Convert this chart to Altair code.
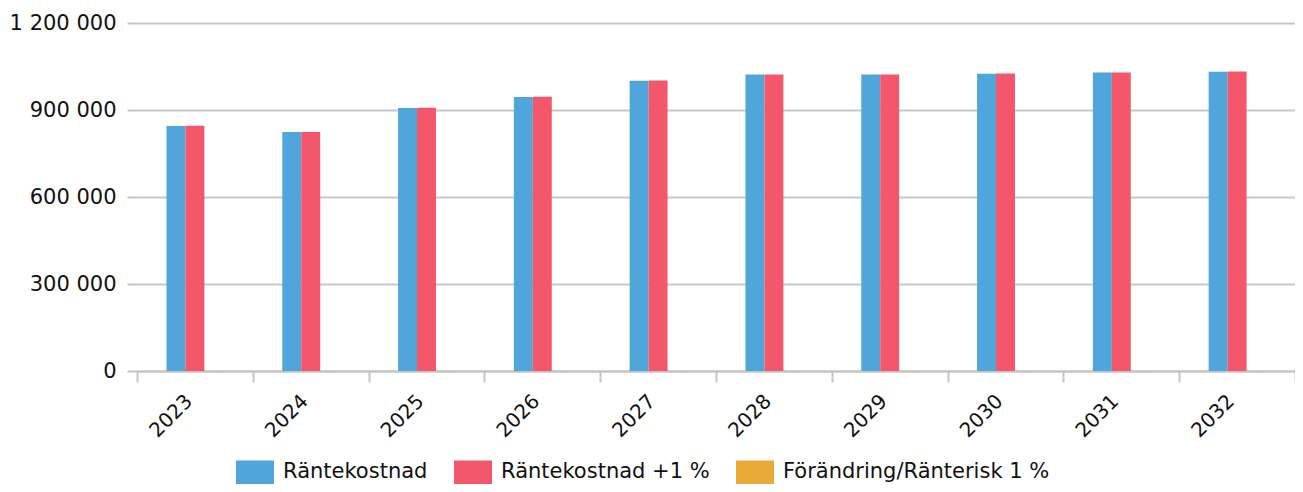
import altair as alt
import pandas as pd

years = ["2023", "2024", "2025", "2026", "2027", "2028", "2029", "2030", "2031", "2032"]
series = ["Räntekostnad", "Räntekostnad +1 %", "Förändring/Ränterisk 1 %"]
rantekostnad = [845000, 824000, 907000, 945000, 1001000, 1022000, 1022000, 1025000, 1029000, 1032000]
rantekostnad_1 = [845500, 824500, 907500, 945500, 1001500, 1022500, 1022500, 1025500, 1029500, 1032500]
forandring = [500, 500, 500, 500, 500, 500, 500, 500, 500, 500]
colors = ["#50A5DA", "#F3576C", "#E9AA38"]

rows = []
for i, y in enumerate(years):
    for s, vals in zip(series, [rantekostnad, rantekostnad_1, forandring]):
        rows.append({"year": y, "series": s, "value": vals[i]})
df = pd.DataFrame(rows)

FONT = "DejaVu Sans"
offset_domain = ["_l"] + series + ["_r"]

chart = alt.Chart(df).mark_bar(stroke=None).encode(
    x=alt.X("year:N", sort=years, title=None,
            scale=alt.Scale(paddingInner=0, paddingOuter=0),
            axis=alt.Axis(labelAngle=-45, labelAlign="right", labelBaseline="alphabetic",
                          labelOffset=-2, tickBand="extent", labelFontSize=20,
                          labelFont=FONT, labelColor="#111", labelPadding=20,
                          tickSize=11, tickWidth=2, tickColor="#c4c4c4",
                          domainColor="#c4c4c4", domainWidth=2, grid=False)),
    xOffset=alt.XOffset("series:N",
                        scale=alt.Scale(domain=offset_domain, paddingInner=0, paddingOuter=0.555)),
    y=alt.Y("value:Q", title=None,
            scale=alt.Scale(domain=[0, 1200000], nice=False),
            axis=alt.Axis(values=[0, 300000, 600000, 900000, 1200000],
                          labelExpr="replace(format(datum.value, ','), /,/g, ' ')",
                          labelFontSize=21, labelFont=FONT, labelColor="#111",
                          labelPadding=11, tickSize=10, tickWidth=2, tickColor="#c4c4c4",
                          domain=False, gridColor="#c8c8c8", gridWidth=2)),
    color=alt.Color("series:N", sort=series,
                    scale=alt.Scale(domain=series, range=colors),
                    legend=alt.Legend(title=None, orient="none", legendX=99, legendY=430,
                                      direction="horizontal", columns=3,
                                      symbolType="M-1,-0.632L1,-0.632L1,0.632L-1,0.632Z",
                                      symbolSize=1444, symbolStrokeWidth=0,
                                      labelFontSize=21, labelFont=FONT, labelColor="#111",
                                      labelOffset=9, columnPadding=26, padding=0,
                                      labelLimit=400)),
).properties(
    width=1158, height=348,
    autosize=alt.AutoSizeParams(type="none"),
    padding={"left": 129, "top": 15, "right": 0, "bottom": 113},
).configure_view(stroke=None)

chart.save("out.html", embed_options={"renderer": "svg", "actions": False})
